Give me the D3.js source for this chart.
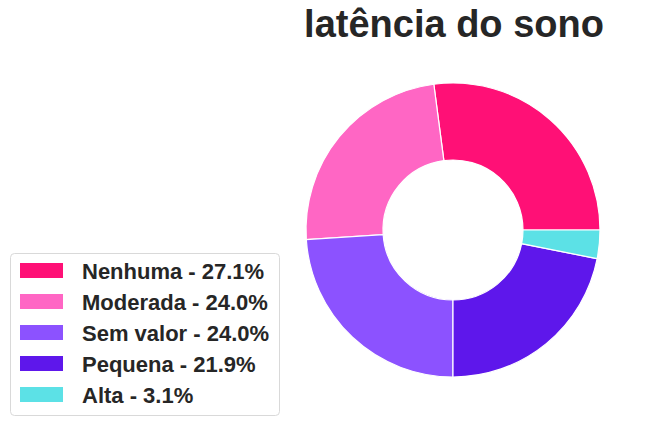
<!DOCTYPE html>
<html>
<head>
<meta charset="utf-8">
<script src="https://cdn.jsdelivr.net/npm/d3@7"></script>
<style>
  body { margin: 0; background: #fff; }
  text { font-family: "Liberation Sans", Arial, sans-serif; font-weight: bold; fill: #262626; }
</style>
</head>
<body>
<div id="chart"></div>
<script>
// Data
const categories = ["Nenhuma", "Moderada", "Sem valor", "Pequena", "Alta"];
const counts = [26, 23, 23, 21, 3];
const colors = ["#ff1076", "#ff66c4", "#8c52ff", "#5e17eb", "#5ce1e6"];
const title = "latência do sono";

const width = 648, height = 425;
const cx = 453, cy = 230;
const outerR = 147, innerR = 70;

const svg = d3.select("#chart")
    .append("svg")
    .attr("width", width)
    .attr("height", height);

const total = d3.sum(counts);
const data = categories.map((c, i) => ({ name: c, value: counts[i], color: colors[i] }));

// matplotlib style: start at 3 o'clock, counterclockwise
const pie = d3.pie()
    .sort(null)
    .value(d => d.value)
    .startAngle(Math.PI / 2)
    .endAngle(Math.PI / 2 - 2 * Math.PI);

const arc = d3.arc().innerRadius(innerR).outerRadius(outerR);

svg.append("g")
    .attr("transform", `translate(${cx},${cy})`)
    .selectAll("path")
    .data(pie(data))
    .enter()
    .append("path")
    .attr("d", arc)
    .attr("fill", d => d.data.color)
    .attr("stroke", "#fff")
    .attr("stroke-width", 1.2);

// Title
svg.append("text")
    .attr("x", 454)
    .attr("y", 37)
    .attr("text-anchor", "middle")
    .style("font-size", "38px")
    .text(title);

// Legend
const legend = svg.append("g").attr("transform", "translate(10,253)");
legend.append("rect")
    .attr("x", 0.5).attr("y", 0.5)
    .attr("width", 269).attr("height", 162)
    .attr("rx", 4)
    .attr("fill", "#fff")
    .attr("stroke", "#d9d9d9");

const fmt = d3.format(".1f");
const rows = legend.selectAll(".row")
    .data(data)
    .enter()
    .append("g")
    .attr("class", "row")
    .attr("transform", (d, i) => `translate(0,${10 + i * 31})`);

rows.append("rect")
    .attr("x", 10).attr("y", 0)
    .attr("width", 43).attr("height", 15)
    .attr("fill", d => d.color);

rows.append("text")
    .attr("x", 72)
    .attr("y", 16)
    .style("font-size", "22px")
    .text(d => `${d.name} - ${fmt(d.value / total * 100)}%`);
</script>
</body>
</html>
